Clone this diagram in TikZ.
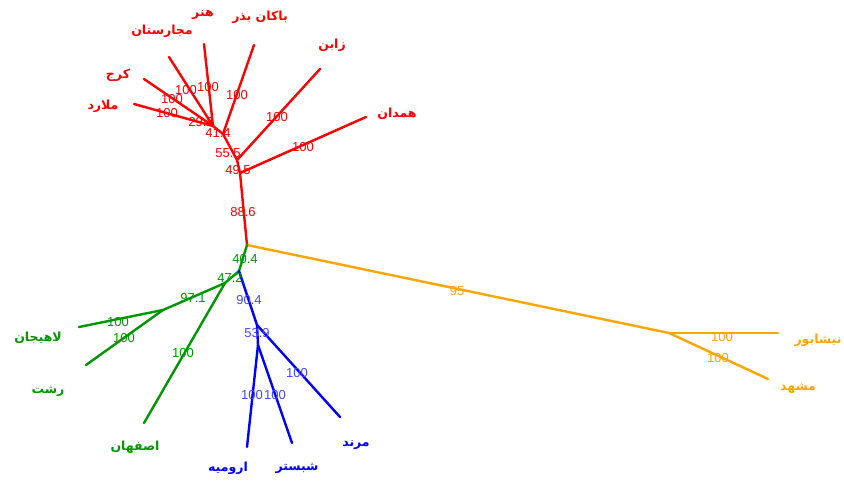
\documentclass[tikz,border=0pt]{standalone}
\usepackage{fontspec}
\setmainfont{Liberation Sans}
\newfontfamily\arabicfont[Script=Arabic]{DejaVu Sans}
\TeXXeTstate=1
\definecolor{cred}{RGB}{255,0,0}
\definecolor{corange}{RGB}{255,165,0}
\definecolor{cgreen}{RGB}{0,150,0}
\definecolor{cblue}{RGB}{0,0,255}
\definecolor{cbluel}{RGB}{70,70,255}
\tikzset{
  br/.style={line width=2.4pt, line cap=round},
  bs/.style={font=\fontsize{13}{14}\selectfont, inner sep=0pt},
  tip/.style={font=\fontsize{12.5}{13}\arabicfont\bfseries, inner sep=0pt},
}
\newcommand{\ar}[1]{\beginR #1\endR}
\begin{document}
\begin{tikzpicture}[x=1pt,y=-1pt]
\useasboundingbox[fill=white] (0,0) rectangle (844,482);
% coordinates
\coordinate (root) at (247,245);
\coordinate (r495) at (240,173);
\coordinate (r555) at (237,160);
\coordinate (r414) at (223,134);
\coordinate (r293) at (213,126);
\coordinate (tHamedan) at (366,117);
\coordinate (tZaban) at (320,69);
\coordinate (tBakan) at (254,45);
\coordinate (tHonar) at (204,44);
\coordinate (tMajar) at (169,57);
\coordinate (tKaraj) at (144,79);
\coordinate (tMalard) at (134,104);
\coordinate (g404) at (239,271);
\coordinate (g472) at (225,283);
\coordinate (g971) at (163,310);
\coordinate (tLahijan) at (79,327);
\coordinate (tRasht) at (86,365);
\coordinate (tEsfahan) at (144,423);
\coordinate (b539) at (257,325);
\coordinate (b2) at (258,345);
\coordinate (tUrmia) at (247,447);
\coordinate (tShabestar) at (292,443);
\coordinate (tMarand) at (340,417);
\coordinate (o1) at (669,333);
\coordinate (tNeyshabur) at (778,333);
\coordinate (tMashhad) at (768,379);
% red
\draw[br,cred] (root) -- (r495);
\draw[br,cred] (r495) -- (tHamedan);
\draw[br,cred] (r495) -- (r555);
\draw[br,cred] (r555) -- (tZaban);
\draw[br,cred] (r555) -- (r414);
\draw[br,cred] (r414) -- (tBakan);
\draw[br,cred] (r414) -- (r293);
\draw[br,cred] (r293) -- (tHonar);
\draw[br,cred] (r293) -- (tMajar);
\draw[br,cred] (r293) -- (tKaraj);
\draw[br,cred] (r293) -- (tMalard);
% orange
\draw[br,corange] (root) -- (o1);
\draw[br,corange] (o1) -- (tNeyshabur);
\draw[br,corange] (o1) -- (tMashhad);
% green
\draw[br,cgreen] (root) -- (g404);
\draw[br,cgreen] (g404) -- (g472);
\draw[br,cgreen] (g472) -- (g971);
\draw[br,cgreen] (g971) -- (tLahijan);
\draw[br,cgreen] (g971) -- (tRasht);
\draw[br,cgreen] (g472) -- (tEsfahan);
% blue
\draw[br,cblue] (g404) -- (b539);
\draw[br,cblue] (b539) -- (tMarand);
\draw[br,cblue] (b539) -- (b2);
\draw[br,cblue] (b2) -- (tUrmia);
\draw[br,cblue] (b2) -- (tShabestar);
% bootstrap labels
\node[bs,cred] (l1) at (167,113) {100};
\node[bs,cred] (l2) at (172,99) {100};
\node[bs,cred] (l3) at (186,90) {100};
\node[bs,cred] (l4) at (208,87) {100};
\node[bs,cred] (l5) at (237,95) {100};
\node[bs,cred] (l6) at (201,122) {29.3};
\node[bs,cred] (l7) at (218,133) {41.4};
\node[bs,cred] (l8) at (228,153) {55.5};
\node[bs,cred] (l9) at (238,170) {49.5};
\node[bs,cred] (l10) at (277,117) {100};
\node[bs,cred] (l11) at (303,147) {100};
\node[bs,cred] (l12) at (243,212) {88.6};
\node[bs,corange] (l13) at (457,291) {95};
\node[bs,corange] (l14) at (722,337) {100};
\node[bs,corange] (l15) at (718,358) {100};
\node[bs,cgreen] (l16) at (245,259) {40.4};
\node[bs,cgreen] (l17) at (230,278) {47.2};
\node[bs,cgreen] (l18) at (193,298) {97.1};
\node[bs,cgreen] (l19) at (118,322) {100};
\node[bs,cgreen] (l20) at (124,338) {100};
\node[bs,cgreen] (l21) at (183,353) {100};
\node[bs,cbluel] (l22) at (249,300) {90.4};
\node[bs,cbluel] (l23) at (257,333) {53.9};
\node[bs,cbluel] (l24) at (297,373) {100};
\node[bs,cbluel] (l25) at (252,395) {100};
\node[bs,cbluel] (l26) at (275,395) {100};
% tip labels
\node[tip,cred] (nHonar) at (203,15) {\ar{هنر}};
\node[tip,cred] (nBakan) at (260,17) {\ar{باکان بذر}};
\node[tip,cred] (nMajar) at (162,31) {\ar{مجارستان}};
\node[tip,cred] (nKaraj) at (118,75) {\ar{کرج}};
\node[tip,cred] (nMalard) at (103,106) {\ar{ملارد}};
\node[tip,cred] (nZaban) at (332,45) {\ar{زابن}};
\node[tip,cred] (nHamedan) at (397,114) {\ar{همدان}};
\node[tip,corange] (nNeyshabur) at (818,340) {\ar{نیشابور}};
\node[tip,corange] (nMashhad) at (798,388) {\ar{مشهد}};
\node[tip,cgreen] (nLahijan) at (38,338) {\ar{لاهیجان}};
\node[tip,cgreen] (nRasht) at (48,391) {\ar{رشت}};
\node[tip,cgreen] (nEsfahan) at (135,447) {\ar{اصفهان}};
\node[tip,cblue] (nUrmia) at (228,468) {\ar{ارومیه}};
\node[tip,cblue] (nShabestar) at (297,468) {\ar{شبستر}};
\node[tip,cblue] (nMarand) at (356,445) {\ar{مرند}};
\end{tikzpicture}
\end{document}
